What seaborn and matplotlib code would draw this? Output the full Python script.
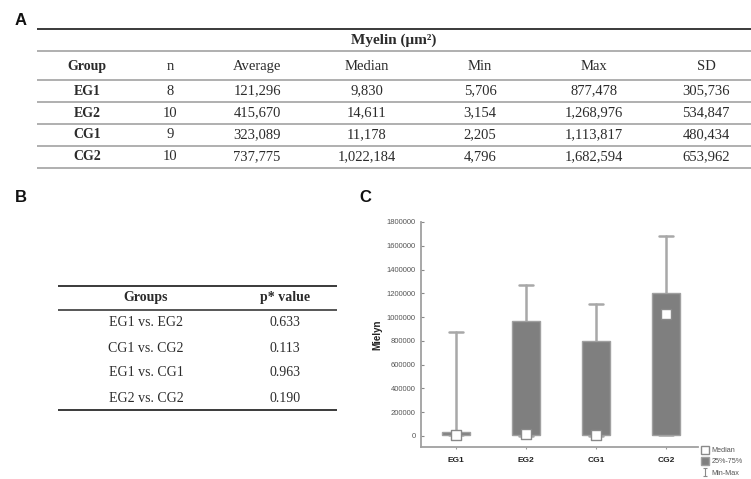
import matplotlib
matplotlib.use("Agg")
import matplotlib.pyplot as plt
from matplotlib.lines import Line2D
from matplotlib.path import Path
import seaborn as sns

# Descriptive statistics of myelin area per group
groups = ["EG1", "EG2", "CG1", "CG2"]
n_values = [8, 10, 9, 10]
average = [121296, 415670, 323089, 737775]
median = [9830, 14611, 11178, 1022184]
minimum = [5706, 3154, 2205, 4796]
maximum = [877478, 1268976, 1113817, 1682594]
sd = [305736, 534847, 480434, 653962]
# Interquartile bounds for the box plot
q1 = [6000, 5000, 4000, 6000]
q3 = [32000, 965000, 800000, 1200000]

# Pairwise comparisons
comparisons = ["EG1 vs. EG2", "CG1 vs. CG2", "EG1 vs. CG1", "EG2 vs. CG2"]
p_values = [0.633, 0.113, 0.963, 0.190]

y_ticks = [0, 200000, 400000, 600000, 800000, 1000000, 1200000, 1400000, 1600000, 1800000]

sns.set_style("white")
plt.rcParams["font.family"] = ["Liberation Sans", "DejaVu Sans"]

W, H = 751, 479
fig = plt.figure(figsize=(W / 100, H / 100), dpi=100)

# Full-figure canvas in pixel units for the tables and panel letters
canvas = fig.add_axes([0, 0, 1, 1])
canvas.set_xlim(0, W)
canvas.set_ylim(H, 0)
canvas.axis("off")

serif = ["Liberation Serif", "DejaVu Serif"]
ink = "#2b2b2b"
rule = "#9a9a9a"

for letter, (lx, ly) in zip("ABC", [(21, 20), (21, 197), (365, 198)]):
    canvas.text(lx, ly, letter, fontsize=12, fontweight="bold", ha="center",
                va="center", color="#111111")

# ---- Table A ----
col_x = [87, 170, 257, 367, 480, 594, 706]
headers = ["Group", "n", "Average", "Median", "Min", "Max", "SD"]
canvas.hlines(29, 37, W, color="#3a3a3a", lw=1.4)
for yl in [51, 80, 102, 124, 146, 168]:
    canvas.hlines(yl, 37, W, color=rule, lw=1.1)
canvas.text(394, 40, "Myelin (μm²)", family=serif, fontsize=11, fontweight="bold",
            ha="center", va="center", color=ink)
for i, (hx, h) in enumerate(zip(col_x, headers)):
    canvas.text(hx, 66, h, family=serif, fontsize=10 if i == 0 else 10.5,
                ha="center", va="center", color=ink,
                fontweight="bold" if i == 0 else "normal")
row_y = [91, 113, 135, 157]
for r, g in enumerate(groups):
    cells = [g, str(n_values[r]), f"{average[r]:,}", f"{median[r]:,}",
             f"{minimum[r]:,}", f"{maximum[r]:,}", f"{sd[r]:,}"]
    for c, (cx, txt) in enumerate(zip(col_x, cells)):
        canvas.text(cx, row_y[r], txt, family=serif, fontsize=10 if c == 0 else 10.5,
                    ha="center", va="center", color=ink,
                    fontweight="bold" if c == 0 else "normal")

# ---- Table B ----
canvas.hlines(286, 58, 337, color="#3a3a3a", lw=1.4)
canvas.hlines(310, 58, 337, color="#3a3a3a", lw=1.2)
canvas.hlines(410, 58, 337, color="#3a3a3a", lw=1.4)
canvas.text(146, 298, "Groups", family=serif, fontsize=10, fontweight="bold",
            ha="center", va="center", color=ink)
canvas.text(285, 298, "p* value", family=serif, fontsize=10, fontweight="bold",
            ha="center", va="center", color=ink)
for yy, comp, p in zip([323, 348, 373, 398], comparisons, p_values):
    canvas.text(146, yy, comp, family=serif, fontsize=10, ha="center", va="center", color=ink)
    canvas.text(285, yy, f"{p:.3f}", family=serif, fontsize=10, ha="center", va="center", color=ink)

# ---- Panel C: box plot ----
ax = fig.add_axes([421 / W, 1 - 447 / H, (698 - 421) / W, (447 - 222) / H])
positions = list(range(len(groups)))
stats = [dict(med=m, q1=a, q3=b, whislo=lo, whishi=hi, fliers=[], label=g)
         for g, m, a, b, lo, hi in zip(groups, median, q1, q3, minimum, maximum)]
line_grey = "#a8a8a8"
ax.bxp(stats, positions=positions, widths=0.41, capwidths=0.21, patch_artist=True,
       showfliers=False,
       boxprops=dict(facecolor="#7f7f7f", edgecolor="#a0a0a0", linewidth=1.0, zorder=3),
       whiskerprops=dict(color=line_grey, linewidth=1.8, zorder=2),
       capprops=dict(color=line_grey, linewidth=1.8, zorder=2),
       medianprops=dict(linewidth=0))
sns.scatterplot(x=positions, y=median, marker="s", s=42, color="white",
                edgecolor="#8a8a8a", linewidth=1.0, ax=ax, zorder=5)

ax.set_xlim(-0.5, 3.457)
ax.set_ylim(-93000, 1800000)
ax.set_yticks(y_ticks)
ax.set_yticklabels([str(v) for v in y_ticks])
ax.set_xticks(positions)
ax.set_xticklabels(groups, fontweight="bold")
ax.tick_params(axis="y", direction="in", length=2, width=0.8, color="#888888",
               labelsize=5.5, labelcolor="#555555", pad=4, left=True)
ax.tick_params(axis="x", direction="out", length=1.2, width=0.8, color="#999999",
               labelsize=6, labelcolor="#222222", pad=6, bottom=True)
ax.set_ylabel("Mielyn", fontsize=7, fontweight="bold", color="#222222", labelpad=3)
ax.set_xlabel("")
for side in ["top", "right"]:
    ax.spines[side].set_visible(False)
for side in ["left", "bottom"]:
    ax.spines[side].set_color("#a0a0a0")
    ax.spines[side].set_linewidth(1.3)
ax.patch.set_alpha(0)

# I-beam glyph for the min-max legend entry
ibeam = Path([(-0.3, 0.5), (0.3, 0.5), (0, 0.5), (0, -0.5), (-0.3, -0.5), (0.3, -0.5)],
             [Path.MOVETO, Path.LINETO, Path.MOVETO, Path.LINETO, Path.MOVETO, Path.LINETO])
handles = [
    Line2D([], [], marker="s", ls="none", mfc="white", mec="#8a8a8a", ms=5.5),
    Line2D([], [], marker="s", ls="none", mfc="#7f7f7f", mec="#a0a0a0", ms=5.5),
    Line2D([], [], marker=ibeam, ls="none", mfc="none", mec="#8a8a8a", mew=0.8, ms=5.5),
]
leg = fig.legend(handles, ["Median", "25%-75%", "Min-Max"], loc="upper left",
                 bbox_to_anchor=(702 / W, 1 - 447 / H), frameon=False, fontsize=5.2,
                 handlelength=0.8, handletextpad=0.5, labelspacing=0.6,
                 borderpad=0, borderaxespad=0)
for t in leg.get_texts():
    t.set_color("#555555")

fig.savefig("out.png", dpi=100)
